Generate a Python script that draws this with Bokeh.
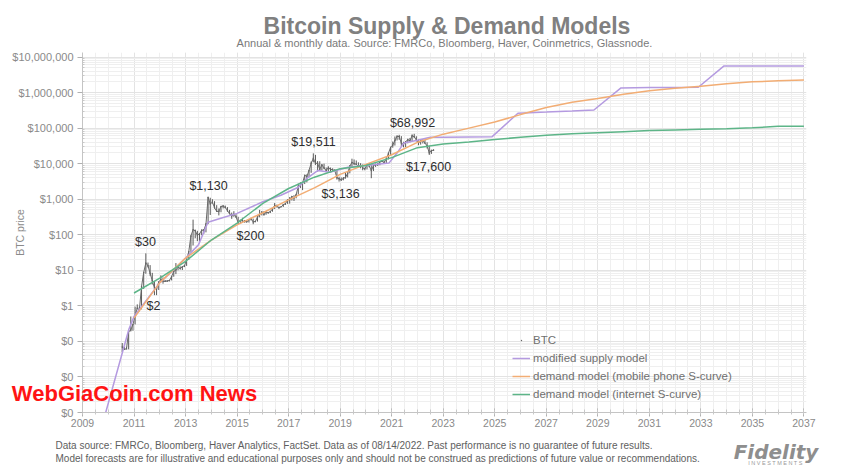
import math
from bokeh.plotting import figure
from bokeh.models import (ColumnDataSource, FixedTicker, NumeralTickFormatter,
                          Label, Legend, LegendItem, Range1d)
from bokeh.embed import file_html
from bokeh.resources import INLINE

# ---------------- data ----------------
btc_start_year = 2010
btc_start_month = 7  # July 2010, monthly bars
btc_high = [0.09, 0.07, 0.07, 0.19, 0.50, 0.30,
            0.95, 1.10, 0.95, 3.50, 8.90, 30.0, 16.5, 14.0, 8.5, 5.0, 3.5, 4.8,
            7.2, 6.3, 5.3, 5.2, 5.2, 6.8, 9.5, 16.0, 12.8, 12.9, 12.8, 13.8,
            20.8, 33.5, 95, 266, 140, 129, 112, 135, 145, 213, 1130, 1100,
            1000, 880, 680, 550, 630, 680, 660, 600, 500, 420, 460, 380,
            320, 260, 300, 260, 250, 265, 300, 285, 245, 330, 500, 465,
            460, 440, 440, 470, 550, 780, 700, 625, 615, 720, 760, 980,
            1150, 1210, 1300, 1350, 2760, 3000, 2930, 4740, 5000, 6470, 11500, 19511,
            17700, 11800, 11700, 9760, 9990, 7770, 8470, 7760, 7400, 7000, 6550, 4300,
            4100, 4200, 5500, 5600, 9100, 13800, 13100, 12300, 10900, 10300, 9500, 7700,
            9600, 10500, 9200, 9400, 10000, 10400, 11400, 12400, 12000, 14000, 19800, 29300,
            41900, 58300, 61800, 64800, 59500, 41300, 42400, 50500, 52900, 66900, 68992, 59000,
            47900, 45800, 48200, 47400, 39900, 31900, 24600, 25200]
btc_low = [0.05, 0.06, 0.06, 0.06, 0.19, 0.20,
           0.30, 0.80, 0.70, 0.80, 3.0, 8.0, 12.0, 7.0, 4.0, 2.0, 2.0, 2.8,
           4.6, 4.2, 4.7, 4.8, 4.9, 5.2, 6.6, 7.8, 10.0, 10.5, 10.2, 12.3,
           13.3, 19.6, 33, 50, 80, 66, 65, 97, 106, 117, 199, 360,
           750, 550, 450, 350, 430, 550, 560, 440, 380, 280, 320, 300,
           200, 212, 240, 220, 228, 221, 252, 198, 225, 235, 310, 350,
           350, 365, 395, 410, 445, 530, 590, 540, 600, 605, 690, 740,
           750, 920, 890, 1060, 1350, 2070, 1800, 2670, 2970, 4150, 5520, 10900,
           9200, 6000, 6600, 6440, 7050, 5780, 6070, 5880, 6100, 6210, 3560, 3136,
           3350, 3400, 3800, 4100, 5350, 7500, 9100, 9400, 7800, 7400, 6500, 6500,
           6900, 8400, 3900, 6200, 8100, 8900, 9000, 11000, 10000, 10400, 13200, 17600,
           28100, 32300, 45000, 47000, 30000, 28800, 29300, 37300, 39600, 43300, 53300, 42000,
           33000, 34300, 37000, 37600, 26700, 17600, 18800, 23600]
btc_close = [0.07, 0.06, 0.062, 0.19, 0.21, 0.30,
             0.52, 0.86, 0.78, 3.5, 8.7, 16.1, 13.4, 8.2, 5.1, 3.2, 2.97, 4.7,
             5.5, 4.9, 4.9, 5.0, 5.2, 6.7, 9.4, 10.2, 12.4, 11.2, 12.6, 13.5,
             20.4, 33.4, 93, 139, 129, 97, 106, 135, 133, 198, 1129, 732,
             829, 573, 457, 448, 628, 640, 586, 481, 387, 338, 378, 320,
             217, 254, 244, 236, 230, 264, 284, 230, 236, 314, 377, 430,
             368, 437, 416, 448, 531, 673, 624, 575, 609, 698, 742, 963,
             970, 1190, 1080, 1348, 2300, 2480, 2875, 4700, 4340, 6470, 10200, 14150,
             10200, 10300, 6930, 9240, 7500, 6400, 7730, 7040, 6630, 6370, 4020, 3740,
             3460, 3850, 4100, 5350, 8560, 10800, 10080, 9630, 8290, 9200, 7570, 7190,
             9350, 8600, 6440, 8660, 9460, 9140, 11350, 11650, 10780, 13800, 19700, 29000,
             33100, 45100, 58800, 57700, 37300, 35000, 41500, 47100, 43800, 61300, 57000, 46300,
             38500, 43200, 45500, 37700, 31800, 19900, 23300, 24000]

supply_years = [2009.9, 2010.8, 2011.0, 2012.0, 2012.4, 2013.0, 2013.5, 2013.87, 2014.4, 2015.0,
                2016.0, 2016.7, 2017.36, 2017.75, 2018.14, 2018.6, 2019.3, 2020.0, 2020.9, 2021.24,
                2021.47, 2022.0, 2022.5, 2023.0, 2024.0, 2024.9, 2025.9, 2027.0, 2028.0, 2028.85,
                2029.9, 2031.0, 2032.0, 2032.9, 2033.9, 2035.0, 2036.0, 2037.0]
supply_values = [0.001, 0.22, 0.5, 4.5, 8.3, 22, 52, 224, 295, 400,
                 850, 1290, 2140, 4070, 6460, 5750, 7940, 8900, 10500, 21400,
                 38000, 45700, 55000, 55000, 56200, 57500, 263000, 282000, 302000, 324000,
                 1350000, 1380000, 1380000, 1410000, 5620000, 5620000, 5620000, 5620000]

demand_years = list(range(2011, 2038))
mobile_values = [0.45, 4.5, 22, 71, 190, 417, 955, 2090, 5010, 9550, 17800, 39800, 67600, 100000,
                 148000, 240000, 380000, 537000, 676000, 891000, 1120000, 1320000, 1510000,
                 1780000, 2000000, 2140000, 2240000]
internet_values = [2.3, 6.0, 17.8, 71, 214, 759, 2000, 4170, 7240, 8910, 14800, 28200, 35500, 40700,
                   47900, 55000, 63100, 69200, 74100, 79400, 85100, 89100, 93300, 95500, 102000,
                   112000, 112000]

x_tick_years = list(range(2009, 2038, 2))
y_ticks = [1e-3, 1e-2, 1e-1, 1, 10, 100, 1e3, 1e4, 1e5, 1e6, 1e7]

ann_labels = ["$30", "$2", "$1,130", "$200", "$19,511", "$3,136", "$68,992", "$17,600"]

# ---------------- layout helpers ----------------
W, H = 860, 472
BL, BR, BT, BB = 82, 54, 52, 60
X0, X1 = 2009.0, 2037.1
LOG0 = -3.0
LOG1 = 7.127
frame_w = W - BL - BR
frame_h = H - BT - BB


def ref_to_data(xr, yr):
    """reference-screenshot pixel -> data coords"""
    fx = xr - BL
    fy = yr - BT
    xd = X0 + fx / frame_w * (X1 - X0)
    yd = 10 ** (LOG1 - fy / frame_h * (LOG1 - LOG0))
    return xd, yd


btc_t = [btc_start_year + (btc_start_month - 1 + i + 0.5) / 12.0 for i in range(len(btc_close))]

p = figure(width=W, height=H, x_range=Range1d(X0, X1), y_range=Range1d(10 ** LOG0, 10 ** LOG1),
           y_axis_type="log", output_backend="svg", toolbar_location=None,
           min_border_left=BL, min_border_right=BR, min_border_top=BT, min_border_bottom=BB)
p.outline_line_color = None
p.background_fill_color = "white"
p.border_fill_color = "white"

# axes
p.xaxis.ticker = FixedTicker(ticks=x_tick_years,
                             minor_ticks=[2009 + 0.5 * k for k in range(0, 57)])
p.yaxis.ticker = FixedTicker(ticks=y_ticks,
                             minor_ticks=[m * t for t in y_ticks[:-1] for m in range(2, 10)])
p.yaxis.formatter = NumeralTickFormatter(format="$0,0")
for ax in (p.xaxis, p.yaxis):
    ax.axis_line_color = "#c4c4c4"
    ax.major_tick_line_color = "#b0b0b0"
    ax.minor_tick_line_color = "#c8c8c8"
    ax.major_label_text_color = "#8a8a8a"
    ax.major_label_text_font = "Liberation Sans"
p.xaxis.major_label_text_font_size = "10.5px"
p.yaxis.major_label_text_font_size = "11px"
p.xaxis.major_tick_in = 4
p.xaxis.major_tick_out = 4
p.xaxis.minor_tick_in = 3
p.xaxis.minor_tick_out = 2
p.xaxis.major_label_standoff = 2
p.yaxis.major_tick_in = 0
p.yaxis.major_tick_out = 5
p.yaxis.minor_tick_in = 2
p.yaxis.minor_tick_out = 0
p.yaxis.major_label_standoff = 4
p.yaxis.axis_label = "BTC price"
p.yaxis.axis_label_text_font = "Liberation Sans"
p.yaxis.axis_label_text_font_size = "10.5px"
p.yaxis.axis_label_text_font_style = "normal"
p.yaxis.axis_label_text_color = "#8a8a8a"
p.yaxis.axis_label_standoff = -17

p.xgrid.grid_line_color = "#e3e3e3"
p.ygrid.grid_line_color = "#e3e3e3"
p.xgrid.minor_grid_line_color = "#efefef"
p.ygrid.minor_grid_line_color = "#efefef"

# BTC monthly bars
src = ColumnDataSource(dict(t=btc_t, hi=btc_high, lo=btc_low, cl=btc_close))
p.segment(x0="t", y0="lo", x1="t", y1="hi", source=src, line_color="#5a5a5a", line_width=1)
p.line(x="t", y="cl", source=src, line_color="#6a6a6a", line_width=1)
btc_pts = p.scatter(x="t", y="cl", source=src, marker="dot", size=6, color="#666666")

# models
sup = p.line(supply_years, supply_values, line_color="#b49ae0", line_width=1.5)
mob = p.line(demand_years, mobile_values, line_color="#f2ad74", line_width=1.5)
net = p.line(demand_years, internet_values, line_color="#5db588", line_width=1.5)

legend = Legend(items=[LegendItem(label="BTC", renderers=[btc_pts]),
                       LegendItem(label="modified supply model", renderers=[sup]),
                       LegendItem(label="demand model (mobile phone S-curve)", renderers=[mob]),
                       LegendItem(label="demand model (internet S-curve)", renderers=[net])],
                location=(430, 11), padding=0, margin=0, spacing=4, glyph_width=18, glyph_height=14,
                label_height=14, label_standoff=3, label_text_font_size="11.5px",
                label_text_color="#707070", label_text_font="Liberation Sans",
                background_fill_alpha=0, border_line_color=None)
p.add_layout(legend, "center")

# peak / trough annotations
ann_ref_pos = [(145, 241), (153, 305), (208, 185), (250, 235), (313, 141), (340, 193), (412, 122),
               (428, 166)]
for lab, (xr, yr) in zip(ann_labels, ann_ref_pos):
    xd, yd = ref_to_data(xr, yr)
    p.add_layout(Label(x=xd, y=yd, text=lab, text_align="center", text_baseline="middle",
                       text_font="Liberation Sans", text_font_size="12.5px", text_color="#2e2e2e"))


def put(text, xr, yr, size, color, panel, align="center", style="normal", font="Liberation Sans",
        line_height=1.2):
    xd, yd = ref_to_data(xr, yr)
    p.add_layout(Label(x=xd, y=yd, text=text, text_align=align, text_baseline="middle",
                       text_font=font, text_font_size=size, text_color=color,
                       text_font_style=style, text_line_height=line_height), panel)


put("Bitcoin Supply & Demand Models", 446.5, 25, "23px", "#808080", "above", style="bold")
put("Annual & monthly data.  Source: FMRCo, Bloomberg, Haver, Coinmetrics, Glassnode.", 445.5, 42,
    "11px", "#7a7a7a", "above")
put("Data source: FMRCo, Bloomberg, Haver Analytics, FactSet. Data as of 08/14/2022. "
    "Past performance is no guarantee of future results.\n"
    "Model forecasts are for illustrative and educational purposes only and should not be "
    "construed as predictions of future value or recommendations.", 55, 451.5, "10px", "#5e5e5e",
    "below", align="left", line_height=1.1)
put("I N V E S T M E N T S", 775, 462, "5.5px", "#9a9a9a", "below")
# zero-height (two-line, negative line height) labels so they do not take panel space;
# such a label is drawn half a line below its anchor, hence the raised anchors
put("Fidelity\n", 775.5, 439, "20px", "#8e8e8e", "below", style="bold italic", font="DejaVu Sans",
    line_height=-1.0)
put("WebGiaCoin.com News\n", 134, 380, "22px", "#ff1414", "above", style="bold",
    line_height=-1.0)

open("out.html", "w").write(file_html(p, INLINE))
